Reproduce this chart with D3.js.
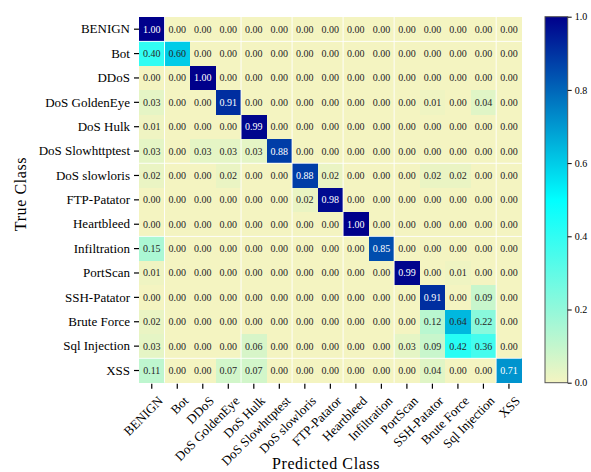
<!DOCTYPE html>
<html><head><meta charset="utf-8">
<script src="https://cdn.jsdelivr.net/npm/d3@7"></script>
<style>
html,body{margin:0;padding:0;background:#fff;}
</style></head>
<body><svg id="c" width="591" height="472" style="font-family:'Liberation Serif',serif"></svg>
<script>
const classes = ["BENIGN","Bot","DDoS","DoS GoldenEye","DoS Hulk","DoS Slowhttptest","DoS slowloris","FTP-Patator","Heartbleed","Infiltration","PortScan","SSH-Patator","Brute Force","Sql Injection","XSS"];
const rowBENIGN      = [1.00,0,0,0,0,0,0,0,0,0,0,0,0,0,0];
const rowBot         = [0.40,0.60,0,0,0,0,0,0,0,0,0,0,0,0,0];
const rowDDoS        = [0,0,1.00,0,0,0,0,0,0,0,0,0,0,0,0];
const rowGoldenEye   = [0.03,0,0,0.91,0,0,0,0,0,0,0,0.01,0,0.04,0];
const rowHulk        = [0.01,0,0,0,0.99,0,0,0,0,0,0,0,0,0,0];
const rowSlowhttp    = [0.03,0,0.03,0.03,0.03,0.88,0,0,0,0,0,0,0,0,0];
const rowSlowloris   = [0.02,0,0,0.02,0,0,0.88,0.02,0,0,0,0.02,0.02,0,0];
const rowFTP         = [0,0,0,0,0,0,0.02,0.98,0,0,0,0,0,0,0];
const rowHeartbleed  = [0,0,0,0,0,0,0,0,1.00,0,0,0,0,0,0];
const rowInfiltration= [0.15,0,0,0,0,0,0,0,0,0.85,0,0,0,0,0];
const rowPortScan    = [0.01,0,0,0,0,0,0,0,0,0,0.99,0,0.01,0,0];
const rowSSH         = [0,0,0,0,0,0,0,0,0,0,0,0.91,0,0.09,0];
const rowBrute       = [0.02,0,0,0,0,0,0,0,0,0,0,0.12,0.64,0.22,0];
const rowSql         = [0.03,0,0,0,0.06,0,0,0,0,0,0.03,0.09,0.42,0.36,0];
const rowXSS         = [0.11,0,0,0.07,0.07,0,0,0,0,0,0,0.04,0,0,0.71];
const matrix = [rowBENIGN,rowBot,rowDDoS,rowGoldenEye,rowHulk,rowSlowhttp,rowSlowloris,rowFTP,rowHeartbleed,rowInfiltration,rowPortScan,rowSSH,rowBrute,rowSql,rowXSS];
const cbTicks = [0.0,0.2,0.4,0.6,0.8,1.0];
// rendering seams visible in the reference
const seamCols = [1,4,6,8,10,14];
const seamRows = [1,6,9,14];

const FONT = "'Liberation Serif', serif";
const svg = d3.select("#c");
const L=139, T=17, W=382.7, H=365.7;
const x = d3.scaleBand().domain(d3.range(15)).range([L,L+W]).padding(0);
const y = d3.scaleBand().domain(d3.range(15)).range([T,T+H]).padding(0);
const color = d3.scaleLinear().domain([0,0.5,1]).range(["#f4f4c1","#00ffff","#00008b"]).interpolate(d3.interpolateRgb);

const cells=[];
matrix.forEach((r,i)=>r.forEach((v,j)=>cells.push({i,j,v})));
svg.append("g").selectAll("rect").data(cells).join("rect")
  .attr("x",d=>x(d.j)).attr("y",d=>y(d.i))
  .attr("width",x.bandwidth()+0.3).attr("height",y.bandwidth()+0.3)
  .attr("fill",d=>color(d.v)).attr("shape-rendering","crispEdges");
svg.append("g").selectAll("line.sc").data(seamCols).join("line")
  .attr("x1",d=>x(d)).attr("x2",d=>x(d)).attr("y1",T).attr("y2",T+H)
  .attr("stroke","#fff").attr("stroke-width",0.9);
svg.append("g").selectAll("line.sr").data(seamRows).join("line")
  .attr("y1",d=>y(d)).attr("y2",d=>y(d)).attr("x1",L).attr("x2",L+W)
  .attr("stroke","#fff").attr("stroke-width",0.9);
svg.append("g").selectAll("text").data(cells).join("text")
  .attr("x",d=>x(d.j)+x.bandwidth()/2).attr("y",d=>y(d.i)+y.bandwidth()/2)
  .attr("text-anchor","middle").attr("dy","0.35em")
  .style("font-family",FONT).style("font-size","10px")
  .attr("fill",d=>d.v>0.68?"#fff":"#262626")
  .text(d=>d.v.toFixed(2));

// y axis
const yAxis = d3.axisLeft(y).tickSize(5).tickPadding(4).tickFormat(i=>classes[i]);
const gy = svg.append("g").attr("transform",`translate(${L},0)`).call(yAxis);
gy.attr("font-family",null).attr("font-size",null);
gy.select(".domain").remove();
gy.selectAll("text").style("font-family",FONT).style("font-size","13px").attr("fill","#000");
gy.selectAll("line").attr("stroke","#000").attr("stroke-width",1.2);

// x axis
const xAxis = d3.axisBottom(x).tickSize(5).tickFormat(i=>classes[i]);
const gx = svg.append("g").attr("transform",`translate(0,${T+H+1})`).call(xAxis);
gx.attr("font-family",null).attr("font-size",null);
gx.select(".domain").remove();
gx.selectAll("line").attr("stroke","#000").attr("stroke-width",1.2);
gx.selectAll("text").style("font-family",FONT).style("font-size","13px").attr("fill","#000")
  .attr("text-anchor","end").attr("y",0).attr("dy",0)
  .attr("transform","translate(12,18) rotate(-45)");

// axis titles
svg.append("text").attr("x",326).attr("y",469).attr("text-anchor","middle")
  .style("font-family",FONT).style("font-size","16px").attr("letter-spacing","0.6px").text("Predicted Class");
svg.append("text").attr("transform","translate(26,194) rotate(-90)").attr("text-anchor","middle")
  .style("font-family",FONT).style("font-size","16px").attr("letter-spacing","0.6px").text("True Class");

// colorbar
const cbX=545, cbW=22.7, cbT=16.7, cbH=366;
const defs = svg.append("defs");
const grad = defs.append("linearGradient").attr("id","cbg").attr("x1",0).attr("y1",1).attr("x2",0).attr("y2",0);
d3.range(0,1.0001,0.05).forEach(t=>grad.append("stop").attr("offset",t).attr("stop-color",color(t)));
svg.append("rect").attr("x",cbX).attr("y",cbT).attr("width",cbW).attr("height",cbH)
  .attr("fill","url(#cbg)").attr("stroke","#555").attr("stroke-width",1);
const cy = d3.scaleLinear().domain([0,1]).range([cbT+cbH,cbT]);
const gc = svg.append("g").attr("transform",`translate(${cbX+cbW},0)`)
  .call(d3.axisRight(cy).tickValues(cbTicks).tickSize(4).tickPadding(3).tickFormat(d3.format(".1f")));
gc.attr("font-family",null).attr("font-size",null);
gc.select(".domain").remove();
gc.selectAll("line").attr("stroke","#000");
gc.selectAll("text").style("font-family",FONT).style("font-size","10px").attr("fill","#000");
</script></body></html>
